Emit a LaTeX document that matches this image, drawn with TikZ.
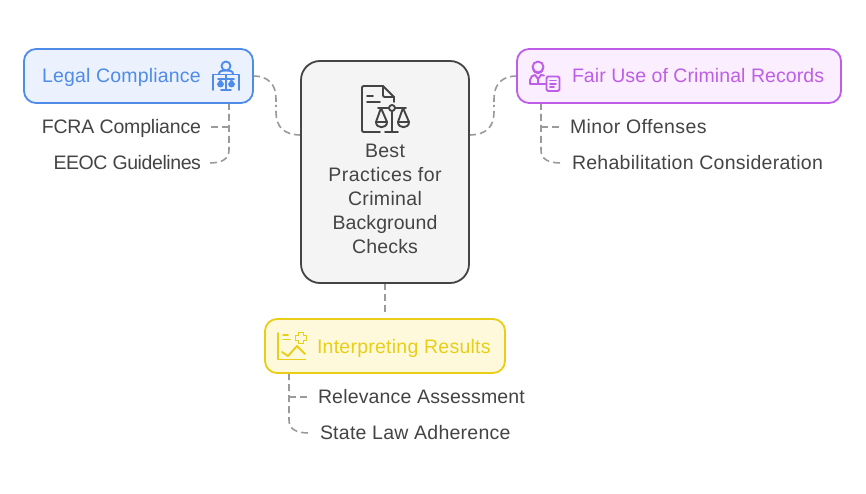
\documentclass[tikz,border=0pt]{standalone}
\usepackage{fontspec}
\setmainfont{Liberation Sans}
\definecolor{inkdark}{HTML}{444444}
\definecolor{linkgrey}{HTML}{9A9A9A}
\definecolor{blueline}{HTML}{4F8BE8}
\definecolor{bluefill}{HTML}{EBF2FE}
\definecolor{violetline}{HTML}{BE5EE8}
\definecolor{violetfill}{HTML}{FBEEFE}
\definecolor{goldline}{HTML}{E8CE16}
\definecolor{goldfill}{HTML}{FEF9DB}
\definecolor{hubfill}{HTML}{F4F4F4}
\tikzset{
  card/.style={draw, line width=1.8pt, rounded corners=12pt, inner sep=0pt, outer sep=0pt},
  txt/.style={font=\fontsize{19.5}{24}\selectfont\addfontfeature{LetterSpace=#1}, inner sep=0pt, outer sep=0pt, text=inkdark},
  link/.style={draw=linkgrey, line width=1.6pt, dash pattern=on 7pt off 4pt},
  glyph/.style={line width=1.9pt, line cap=round, line join=round}
}
\begin{document}
\begin{tikzpicture}[x=1pt,y=-1pt]
\useasboundingbox[fill=white] (0,0) rectangle (866,494);

% attachment points of the connectors
\coordinate (hubL) at (301,135);
\coordinate (hubR) at (469,135);
\coordinate (hubB) at (385,283);
\coordinate (legalR) at (253,76);
\coordinate (fairL) at (517,76);
\coordinate (interpT) at (385,314);
\coordinate (legalB) at (229,103);
\coordinate (fairB) at (541,103);
\coordinate (interpB) at (289,373);
\coordinate (fcraEnd) at (210,127);
\coordinate (eeocEnd) at (209,163);
\coordinate (minorEnd) at (560,127);
\coordinate (rehabEnd) at (561,163);
\coordinate (relevEnd) at (308,397);
\coordinate (stateEnd) at (309,433);
\coordinate (fcraKnee) at (229,127);
\coordinate (minorKnee) at (541,127);
\coordinate (relevKnee) at (289,397);
\coordinate (midL) at (276,105);
\coordinate (midR) at (494,105);

% connectors, each hub link dashed outward from both of its ends
\path[link] (legalR) .. controls (268,76) and (276,84) .. (276,99) -- (midL);
\path[link] (hubL) .. controls (284,135) and (276,127) .. (276,112) -- (midL);
\path[link] (fairL) .. controls (502,76) and (494,84) .. (494,99) -- (midR);
\path[link] (hubR) .. controls (486,135) and (494,127) .. (494,112) -- (midR);
\path[link] (hubB) -- (interpT);
\path[link] (legalB) -- (229,150) .. controls (229,159) and (222,163) .. (eeocEnd);
\path[link] (fcraKnee) -- (fcraEnd);
\path[link] (fairB) -- (541,150) .. controls (541,159) and (548,163) .. (rehabEnd);
\path[link] (minorKnee) -- (minorEnd);
\path[link] (interpB) -- (289,420) .. controls (289,429) and (296,433) .. (stateEnd);
\path[link] (relevKnee) -- (relevEnd);

% cards
\node[card, draw=blueline, fill=bluefill, minimum width=229pt, minimum height=54pt] (legal) at (138.5,76) {};
\node[card, draw=violetline, fill=violetfill, minimum width=324pt, minimum height=54pt] (fair) at (679,76) {};
\node[card, draw=goldline, fill=goldfill, minimum width=240pt, minimum height=54pt] (interp) at (385,346) {};
\node[card, draw=inkdark, fill=hubfill, rounded corners=19pt, minimum width=168pt, minimum height=222pt] (hub) at (385,172) {};

% labels
\node[txt=1, anchor=base west, text=blueline] (tLegal) at (42,83) {Legal Compliance};
\node[txt=-0.9, anchor=base east] (tFcra) at (201,133.5) {FCRA Compliance};
\node[txt=-2.1, anchor=base east] (tEeoc) at (201,169.5) {EEOC Guidelines};
\node[txt=0.4, anchor=base west, text=violetline] (tFair) at (572,83) {Fair Use of Criminal Records};
\node[txt=2, anchor=base west] (tMinor) at (570,133.5) {Minor Offenses};
\node[txt=1.4, anchor=base west] (tRehab) at (572,169.5) {Rehabilitation Consideration};
\node[txt=1.3, anchor=base west, text=goldline] (tInterp) at (317,353) {Interpreting Results};
\node[txt=0.9, anchor=base west] (tRelev) at (318,403.5) {Relevance Assessment};
\node[txt=1.3, anchor=base west] (tState) at (320,439.5) {State Law Adherence};
\node[txt=1.5, anchor=base] (tHub1) at (385,157.5) {Best};
\node[txt=2.2, anchor=base] (tHub2) at (385,181.5) {Practices for};
\node[txt=1.8, anchor=base] (tHub3) at (385,205.5) {Criminal};
\node[txt=0.5, anchor=base] (tHub4) at (385,229.5) {Background};
\node[txt=1, anchor=base] (tHub5) at (385,253.5) {Checks};

% document with scales
\begin{scope}[glyph, draw=inkdark]
  \draw (380,132) -- (364,132) .. controls (362.5,132) and (362,131.5) .. (362,130) -- (362,88) .. controls (362,86.5) and (362.5,86) .. (364,86) -- (383,86) -- (394,97) -- (394,102);
  \draw (383,86) -- (383,95) .. controls (383,96.5) and (383.5,97) .. (385,97) -- (394,97);
  \draw (367,96) -- (373,96);
  \draw (367,102) -- (380,102);
  \draw (378,108) -- (389,108);
  \draw (395,108) -- (406,108);
  \draw (392,108) circle (3);
  \draw (392,111) -- (392,132);
  \draw (385,132) -- (398,132);
  \draw (381,108) -- (376,122) -- (387,122) -- cycle;
  \draw (376,122) .. controls (376,129) and (387,129) .. (387,122);
  \draw (403,108) -- (398,122) -- (409,122) -- cycle;
  \draw (398,122) .. controls (398,129) and (409,129) .. (409,122);
\end{scope}

% person above scales
\begin{scope}[glyph, draw=blueline]
  \draw (226,66) circle (4.5);
  \draw (219,74) .. controls (219,71) and (222,70.5) .. (226,70.5) .. controls (230,70.5) and (233,71) .. (233,74);
  \draw (213,90) -- (213,74.5) -- (239,74.5) -- (239,90);
  \draw (218,79) -- (234,79);
  \draw (226,75) -- (226,90);
  \draw (221,90) -- (231,90);
  \fill[blueline] (217,84) -- (220.5,79) -- (224,84) .. controls (224,88.5) and (217,88.5) .. (217,84) -- cycle;
  \fill[blueline] (228,84) -- (231.5,79) -- (235,84) .. controls (235,88.5) and (228,88.5) .. (228,84) -- cycle;
\end{scope}

% person with a record sheet
\begin{scope}[glyph, draw=violetline]
  \draw (538,67) circle (5.5);
  \draw (533,68) .. controls (534,75) and (542,75) .. (543,68);
  \draw (546,84) -- (530,84) -- (530,80) .. controls (530,77) and (533,75) .. (535,75) -- (538,79) -- (541,75) -- (544,75.5);
  \draw (538,79) -- (538,84);
  \draw (548,76.5) -- (558,76.5) .. controls (559,76.5) and (559.5,77) .. (559.5,78) -- (559.5,89.5) .. controls (559.5,90.5) and (559,91) .. (558,91) -- (548,91) .. controls (547,91) and (546.5,90.5) .. (546.5,89.5) -- (546.5,78) .. controls (546.5,77) and (547,76.5) .. (548,76.5) -- cycle;
  \draw (550,80.5) -- (556,80.5);
  \draw (550,83.8) -- (556,83.8);
  \draw (550,87) -- (554,87);
\end{scope}

% chart with a plus sign
\begin{scope}[glyph, draw=goldline]
  \draw (278,333) -- (278,359.5) -- (305.5,359.5);
  \draw (283,335) -- (288,335);
  \draw (283,339.5) -- (290,339.5);
  \draw (282,352) -- (288,356) -- (297,346) -- (305,354);
  \draw (298.5,332.5) -- (303.5,332.5) -- (303.5,335.5) -- (306.5,335.5) -- (306.5,340.5) -- (303.5,340.5) -- (303.5,343.5) -- (298.5,343.5) -- (298.5,340.5) -- (295.5,340.5) -- (295.5,335.5) -- (298.5,335.5) -- cycle;
\end{scope}
\end{tikzpicture}
\end{document}
